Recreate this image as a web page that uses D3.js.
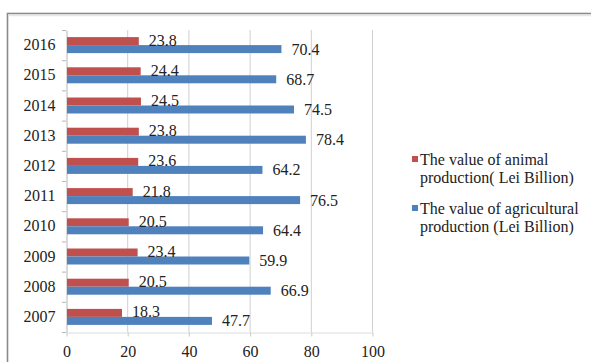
<!DOCTYPE html>
<html>
<head>
<meta charset="utf-8">
<script src="https://cdn.jsdelivr.net/npm/d3@7"></script>
<style>
  html, body { margin: 0; padding: 0; background: #fff; }
  svg { display: block; }
  text { font-family: "Liberation Serif", "Times New Roman", serif; fill: #222; }
</style>
</head>
<body>
<svg id="chart" width="591" height="362"></svg>
<script>
// Production values by year (Lei Billion)
const years = ["2007", "2008", "2009", "2010", "2011", "2012", "2013", "2014", "2015", "2016"];
const animalValues = [18.3, 20.5, 23.4, 20.5, 21.8, 23.6, 23.8, 24.5, 24.4, 23.8];
const agriculturalValues = [47.7, 66.9, 59.9, 64.4, 76.5, 64.2, 78.4, 74.5, 68.7, 70.4];
const xTicks = [0, 20, 40, 60, 80, 100];
const seriesNames = [
  ["The value of animal", "production( Lei Billion)"],
  ["The value of agricultural", "production (Lei Billion)"]
];
const seriesColors = ["#C0504D", "#4F81BD"];

const svg = d3.select("#chart");

// Outer chart frame (top and left edges visible)
svg.append("rect")
  .attr("x", 7.5).attr("y", 13.5)
  .attr("width", 640).attr("height", 400)
  .attr("fill", "none")
  .attr("stroke", "#8a8a8a")
  .attr("stroke-width", 1.6);
svg.append("line")
  .attr("x1", 8).attr("x2", 591).attr("y1", 15.5).attr("y2", 15.5)
  .attr("stroke", "#e6e6e6").attr("stroke-width", 1.5);

const plot = { left: 66, right: 372, top: 30, bottom: 332 };

const x = d3.scaleLinear().domain([0, 100]).range([plot.left, plot.right]);
const y = d3.scaleBand()
  .domain(years.slice().reverse())
  .range([plot.top, plot.bottom])
  .padding(0);
const ySub = d3.scaleBand()
  .domain([0, 1])
  .range([y.bandwidth() / 2 - 8, y.bandwidth() / 2 + 8]);

// Vertical gridlines
svg.append("g")
  .selectAll("line")
  .data(xTicks.slice(1))
  .join("line")
  .attr("x1", d => x(d) + 0.5).attr("x2", d => x(d) + 0.5)
  .attr("y1", plot.top).attr("y2", plot.bottom)
  .attr("stroke", "#cfcfcf").attr("stroke-width", 1);

// Bottom value axis
const xAxis = svg.append("g")
  .attr("transform", `translate(0.5,${plot.bottom + 0.5})`)
  .call(d3.axisBottom(x).tickValues(xTicks).tickSize(4).tickSizeOuter(0).tickPadding(9));
xAxis.select(".domain").attr("stroke", "#dcdcdc");
xAxis.selectAll(".tick line").attr("stroke", "#c8c8c8");
xAxis.selectAll("text")
  .style("font-family", "'Liberation Serif', serif")
  .style("font-size", "16px")
  .attr("fill", "#333");

// Left category axis
const yAxis = svg.append("g")
  .attr("transform", `translate(${plot.left + 0.5},0)`)
  .call(d3.axisLeft(y).tickSize(0).tickPadding(11));
yAxis.select(".domain").attr("stroke", "#b5b5b5");
yAxis.selectAll("text")
  .style("font-family", "'Liberation Serif', serif")
  .style("font-size", "16px")
  .attr("fill", "#333");
// Tick marks at band boundaries
svg.append("g")
  .selectAll("line")
  .data(d3.range(years.length + 1))
  .join("line")
  .attr("x1", plot.left - 4).attr("x2", plot.left)
  .attr("y1", i => plot.top + i * y.step() + 0.5)
  .attr("y2", i => plot.top + i * y.step() + 0.5)
  .attr("stroke", "#b5b5b5");

const rows = years.map((yr, i) => ({ year: yr, values: [animalValues[i], agriculturalValues[i]] }));

const groups = svg.append("g")
  .selectAll("g")
  .data(rows)
  .join("g")
  .attr("transform", d => `translate(0,${y(d.year)})`);

groups.selectAll("rect")
  .data(d => d.values.map((v, s) => ({ v, s })))
  .join("rect")
  .attr("x", x(0) + 1)
  .attr("y", d => ySub(d.s))
  .attr("width", d => x(d.v) - x(0) - 1)
  .attr("height", ySub.bandwidth())
  .attr("fill", d => seriesColors[d.s]);

// Value labels
groups.selectAll("text.val")
  .data(d => d.values.map((v, s) => ({ v, s })))
  .join("text")
  .attr("class", "val")
  .attr("x", d => x(d.v) + 10)
  .attr("y", d => ySub(d.s) + ySub.bandwidth() / 2 - (d.s === 0 ? 1 : 0))
  .attr("dy", "0.35em")
  .style("font-size", "16px")
  .text(d => d3.format(".1f")(d.v));

// Legend
const legend = svg.append("g").attr("transform", "translate(412,0)");
const legendY = [159, 208];
seriesNames.forEach((lines, s) => {
  legend.append("rect")
    .attr("x", 0).attr("y", legendY[s] - 3)
    .attr("width", 6).attr("height", 6)
    .attr("fill", seriesColors[s]);
  lines.forEach((ln, j) => {
    legend.append("text")
      .attr("x", 8)
      .attr("y", legendY[s] + j * 18)
      .attr("dy", "0.35em")
      .style("font-size", "16px")
      .attr("fill", "#222")
      .text(ln);
  });
});
</script>
</body>
</html>
